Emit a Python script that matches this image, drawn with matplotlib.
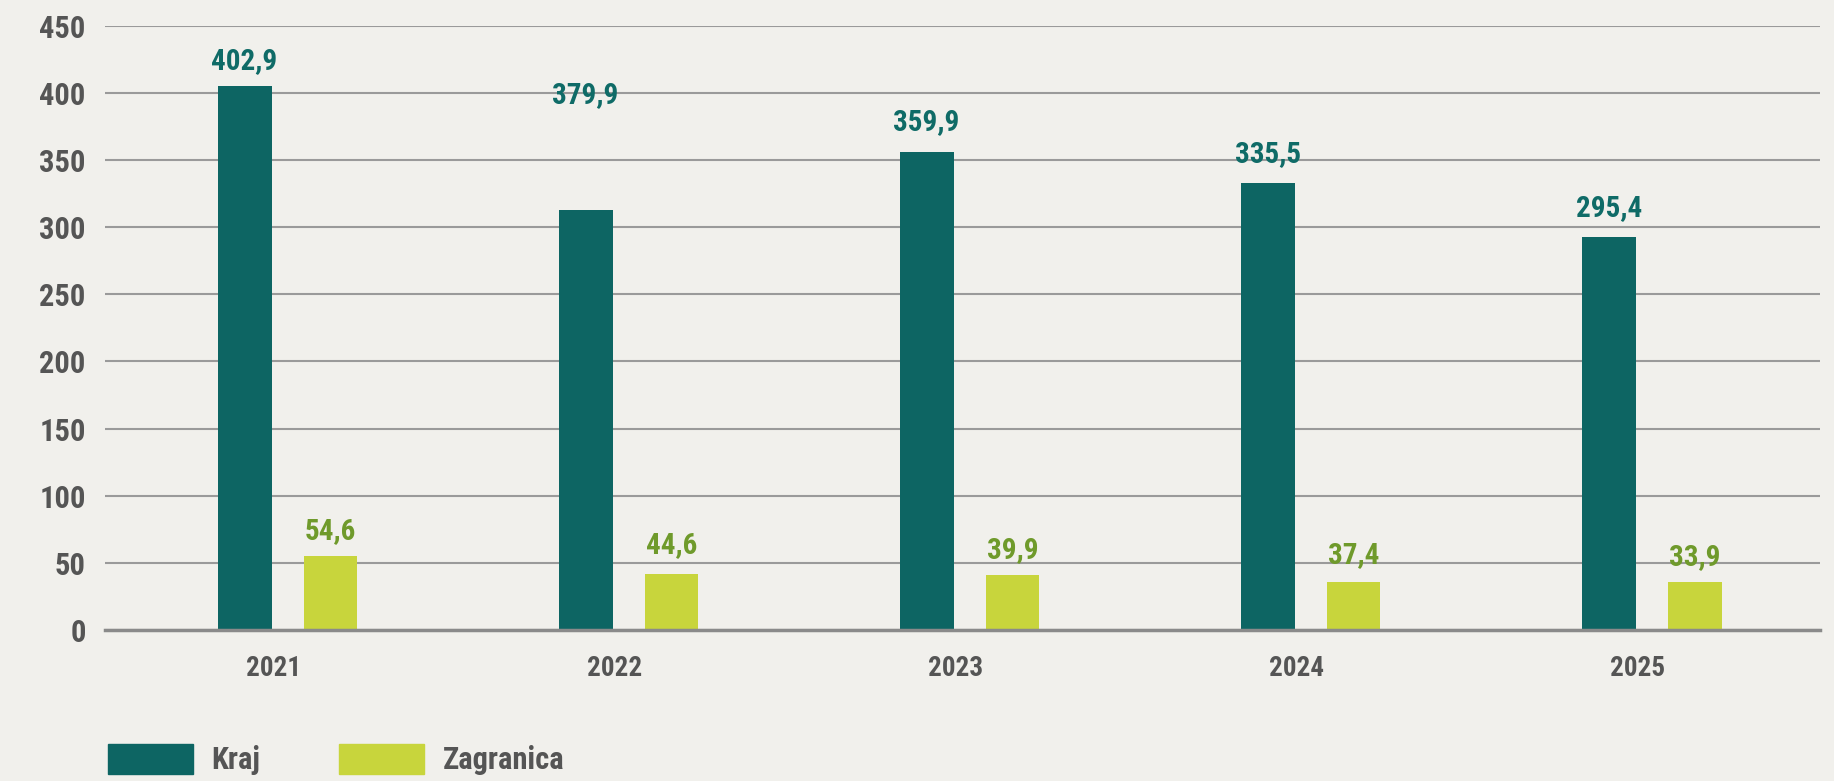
import matplotlib
matplotlib.use("Agg")
import matplotlib.pyplot as plt
from matplotlib import font_manager
from matplotlib.patches import Patch
import numpy as np

# --- data ----------------------------------------------------------------
years = ["2021", "2022", "2023", "2024", "2025"]
kraj_bars = [405.0, 312.7, 356.0, 332.8, 292.7]        # heights as drawn
zagranica_bars = [54.9, 41.8, 40.9, 35.7, 35.7]
kraj_labels = [402.9, 379.9, 359.9, 335.5, 295.4]      # printed values
zagranica_labels = [54.6, 44.6, 39.9, 37.4, 33.9]

KRAJ = "#0d6563"
ZAGR = "#c8d53c"
KRAJ_TXT = "#0f6b67"
ZAGR_TXT = "#6f9a2b"
GREY_TXT = "#555555"
BG = "#f1f0ec"

available = {f.name for f in font_manager.fontManager.ttflist}
families = [f for f in ["Roboto Condensed", "Liberation Sans Narrow",
                        "DejaVu Sans Condensed", "Roboto"] if f in available]
plt.rcParams["font.family"] = families + ["DejaVu Sans"]
plt.rcParams["font.weight"] = "bold"


def fmt(v):
    return f"{v:.1f}".replace(".", ",")


fig = plt.figure(figsize=(18.34, 7.81), dpi=100, facecolor=BG)
ax = fig.add_axes([0.0573, 0.1933, 0.9351, 0.7737])
ax.set_facecolor(BG)

x = np.arange(len(years))
off, w = 0.126, 0.158
ax.bar(x - off, kraj_bars, width=w, color=KRAJ, zorder=3, label="Kraj")
ax.bar(x + off, zagranica_bars, width=w, color=ZAGR, zorder=3, label="Zagranica")

# value labels sit just above the larger of bar top / printed value
for i in range(len(years)):
    ax.annotate(fmt(kraj_labels[i]), (x[i] - off, max(kraj_bars[i], kraj_labels[i])),
                xytext=(0, 8), textcoords="offset points", ha="center",
                va="bottom", fontsize=21, color=KRAJ_TXT, fontweight="bold")
    ax.annotate(fmt(zagranica_labels[i]),
                (x[i] + off, max(zagranica_bars[i], zagranica_labels[i])),
                xytext=(0, 8), textcoords="offset points", ha="center",
                va="bottom", fontsize=21, color=ZAGR_TXT, fontweight="bold")

ax.set_xlim(-0.535, 4.494)
ax.set_ylim(0, 450)
ax.set_yticks(range(0, 451, 50))
ax.set_xticks(x - 0.04)
ax.set_xticklabels(years)
ax.tick_params(axis="y", length=0, pad=14, labelsize=22, labelcolor=GREY_TXT)
ax.tick_params(axis="x", length=0, pad=18, labelsize=19.5, labelcolor=GREY_TXT)

ax.grid(axis="y", color="#9a9a9a", linewidth=1.5, zorder=0)
for s in ["top", "right", "left"]:
    ax.spines[s].set_visible(False)
ax.spines["bottom"].set_color("#8a8a8a")
ax.spines["bottom"].set_linewidth(2.5)
ax.spines["bottom"].set_zorder(4)

handles = [Patch(color=KRAJ, label="Kraj"), Patch(color=ZAGR, label="Zagranica")]
fig.legend(handles=handles, loc="lower left", bbox_to_anchor=(0.0437, -0.028),
           ncol=2, frameon=False, fontsize=22, labelcolor=GREY_TXT,
           handlelength=2.78, handleheight=1.1, handletextpad=0.6,
           columnspacing=2.6)

fig.savefig("out.png", dpi=100, facecolor=BG)
